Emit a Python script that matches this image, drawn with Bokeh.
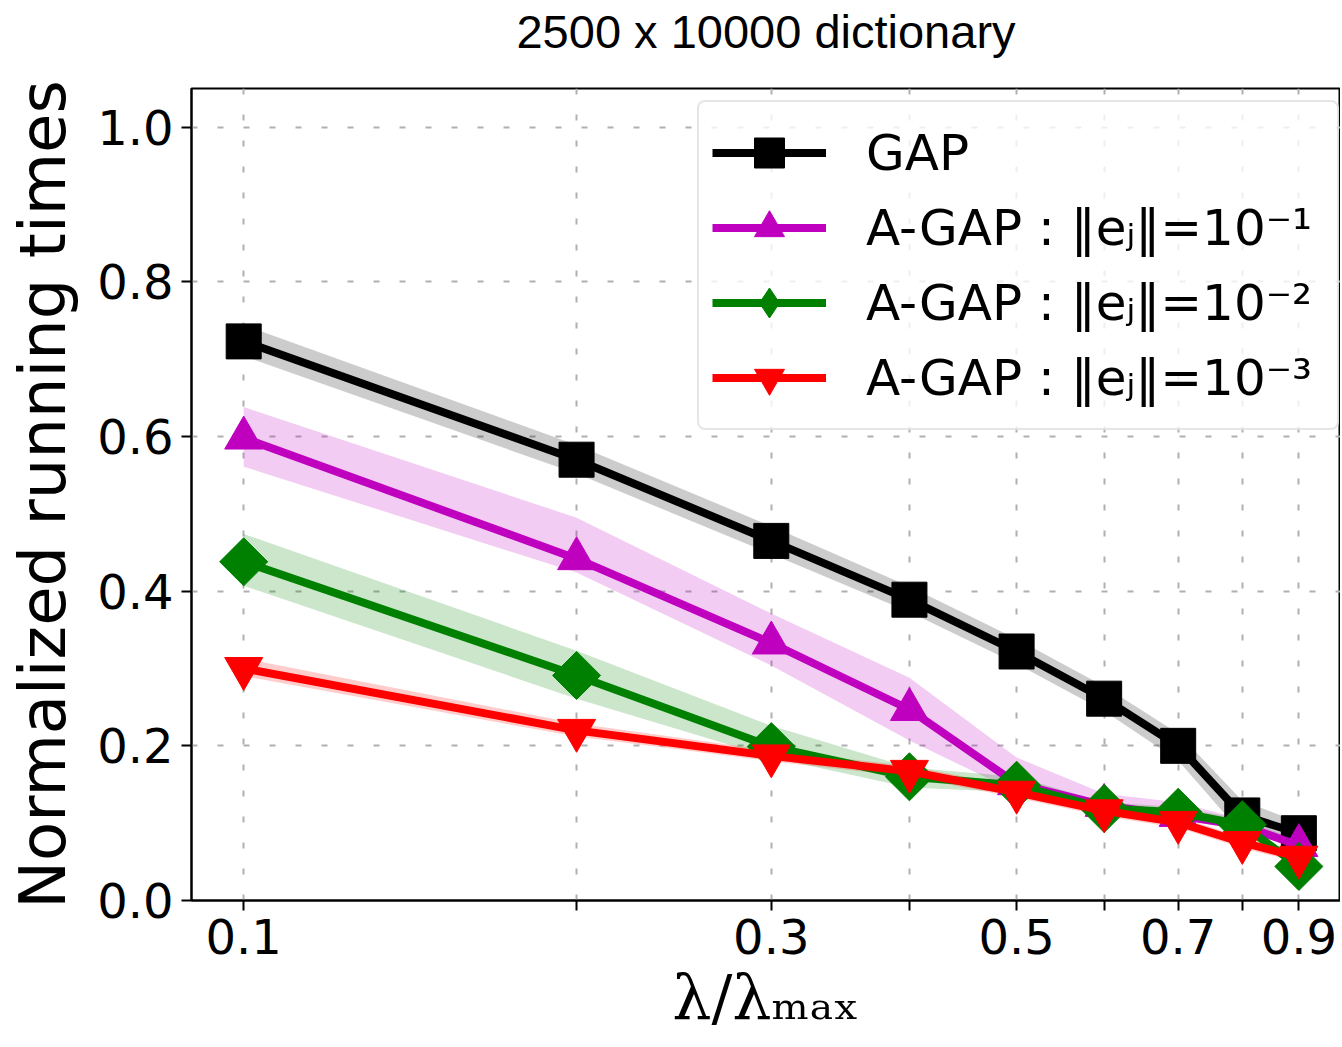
import math
from bokeh.plotting import figure
from bokeh.models import FixedTicker, PrintfTickFormatter, Range1d, Legend, LegendItem, Title
from bokeh.embed import file_html
from bokeh.resources import INLINE

# ---- data ----
lam = [0.1, 0.2, 0.3, 0.4, 0.5, 0.6, 0.7, 0.8, 0.9]
x_tick_labels = {0.1: "0.1", 0.2: "", 0.3: "0.3", 0.4: "", 0.5: "0.5",
                 0.6: "", 0.7: "0.7", 0.8: "", 0.9: "0.9"}
y_ticks = [0.0, 0.2, 0.4, 0.6, 0.8, 1.0]
title_text = "2500 x 10000 dictionary"

gap      = [0.723, 0.570, 0.465, 0.389, 0.322, 0.261, 0.200, 0.110, 0.087]
gap_lo   = [0.704, 0.552, 0.448, 0.373, 0.306, 0.245, 0.181, 0.086, 0.073]
gap_hi   = [0.744, 0.589, 0.484, 0.406, 0.338, 0.277, 0.216, 0.129, 0.101]

ag1      = [0.598, 0.442, 0.333, 0.247, 0.151, 0.123, 0.110, 0.097, 0.071]
ag1_lo   = [0.561, 0.424, 0.304, 0.207, 0.140, 0.115, 0.104, 0.092, 0.066]
ag1_hi   = [0.638, 0.495, 0.371, 0.288, 0.185, 0.138, 0.127, 0.105, 0.078]

ag2      = [0.438, 0.291, 0.199, 0.160, 0.149, 0.119, 0.114, 0.098, 0.044]
ag2_lo   = [0.407, 0.261, 0.185, 0.146, 0.140, 0.112, 0.107, 0.091, 0.038]
ag2_hi   = [0.474, 0.323, 0.226, 0.172, 0.160, 0.127, 0.121, 0.105, 0.050]

ag3      = [0.300, 0.220, 0.187, 0.167, 0.140, 0.116, 0.101, 0.075, 0.056]
ag3_lo   = [0.290, 0.212, 0.180, 0.160, 0.133, 0.109, 0.094, 0.068, 0.049]
ag3_hi   = [0.313, 0.229, 0.194, 0.174, 0.147, 0.123, 0.108, 0.082, 0.063]

labels = ["GAP",
          "A-GAP : \u2016e\u2c7c\u2016=10\u207b\u00b9",
          "A-GAP : \u2016e\u2c7c\u2016=10\u207b\u00b2",
          "A-GAP : \u2016e\u2c7c\u2016=10\u207b\u00b3"]
colors = ["#000000", "#bf00bf", "#008000", "#ff0000"]

series = [(gap, gap_lo, gap_hi), (ag1, ag1_lo, ag1_hi),
          (ag2, ag2_lo, ag2_hi), (ag3, ag3_lo, ag3_hi)]

p = figure(width=1340, height=1045, output_backend="svg", toolbar_location=None,
           x_axis_type="log",
           x_range=Range1d(0.0897, 0.9815), y_range=Range1d(0.0, 1.05),
           min_border_left=191, min_border_right=0, min_border_top=88,
           min_border_bottom=145)

# spacer between the title and the frame (closest to the frame)
p.add_layout(Title(text=" ", text_font_size="10px", standoff=18), "above")

p.title.text = title_text
p.title.text_font = "Liberation Sans"
p.title.text_font_size = "47px"
p.title.text_font_style = "normal"
p.title.text_color = "black"
p.title.align = "center"
p.title.standoff = 0

p.outline_line_color = "black"
p.outline_line_width = 2
p.background_fill_color = "white"
p.border_fill_color = "white"

# axes
for ax in (p.xaxis[0], p.yaxis[0]):
    ax.axis_line_width = 2
    ax.axis_line_color = "black"
    ax.major_tick_line_width = 2
    ax.major_tick_line_color = "black"
    ax.major_tick_out = 10
    ax.major_tick_in = 0
    ax.minor_tick_out = 0
    ax.minor_tick_in = 0
    ax.major_label_text_font = "DejaVu Sans"
    ax.major_label_text_font_size = "48px"
    ax.major_label_text_color = "black"
    ax.major_label_standoff = 8
    ax.axis_label_text_color = "black"

p.xaxis.ticker = FixedTicker(ticks=lam)
p.xaxis.major_label_overrides = x_tick_labels
p.xaxis.axis_label = "\u03bb/\u03bb\u2098\u2090\u2093"
p.xaxis.axis_label_text_font = "DejaVu Serif"
p.xaxis.axis_label_text_font_size = "62px"
p.xaxis.axis_label_text_font_style = "normal"
p.xaxis.axis_label_standoff = 4

p.yaxis.ticker = FixedTicker(ticks=y_ticks)
p.yaxis.formatter = PrintfTickFormatter(format="%.1f")
p.yaxis.axis_label = "Normalized running times"
p.yaxis.axis_label_text_font = "DejaVu Sans"
p.yaxis.axis_label_text_font_size = "64px"
p.yaxis.axis_label_text_font_style = "normal"
p.yaxis.axis_label_standoff = 14

p.xgrid.ticker = FixedTicker(ticks=lam)
p.ygrid.ticker = FixedTicker(ticks=y_ticks)
for g in (p.xgrid[0], p.ygrid[0]):
    g.grid_line_color = "#b0b0b0"
    g.grid_line_width = 2
    g.grid_line_dash = "6 20"

# bands
for (y, lo, hi), c in zip(series, colors):
    p.varea(x=lam, y1=lo, y2=hi, fill_color=c, fill_alpha=0.2)

items = []
markers = [("square", 0.0, 35), ("triangle", 0.0, 38), ("square", math.pi / 4, 34),
           ("inverted_triangle", 0.0, 38)]
legend_markers = ["square", "triangle", "diamond", "inverted_triangle"]
for (y, lo, hi), c, lab, (mk, ang, sz), lmk in zip(series, colors, labels, markers, legend_markers):
    r1 = p.line(lam, y, line_color=c, line_width=8)
    if lmk != mk or ang != 0.0:
        # narrow diamond hidden underneath the rotated square; used for the legend
        rl = p.scatter(lam, y, marker=lmk, size=sz, fill_color=c, line_color=c)
        p.scatter(lam, y, marker=mk, angle=ang, size=sz, fill_color=c, line_color=c)
        items.append(LegendItem(label=lab, renderers=[r1, rl]))
    else:
        r2 = p.scatter(lam, y, marker=mk, size=sz, fill_color=c, line_color=c)
        items.append(LegendItem(label=lab, renderers=[r1, r2]))

legend = Legend(items=items, location=(506, 470))
legend.label_text_font = "DejaVu Sans"
legend.label_text_font_size = "50px"
legend.label_text_color = "black"
legend.label_standoff = 40
legend.label_width = 458
legend.glyph_width = 114
legend.glyph_height = 75
legend.label_height = 75
legend.spacing = 0
legend.padding = 13
legend.border_line_color = "#cccccc"
legend.border_line_width = 2
legend.background_fill_color = "white"
legend.background_fill_alpha = 0.8
try:
    legend.border_radius = 8
except Exception:
    pass
p.add_layout(legend, "center")

open("out.html", "w").write(file_html(p, INLINE))
